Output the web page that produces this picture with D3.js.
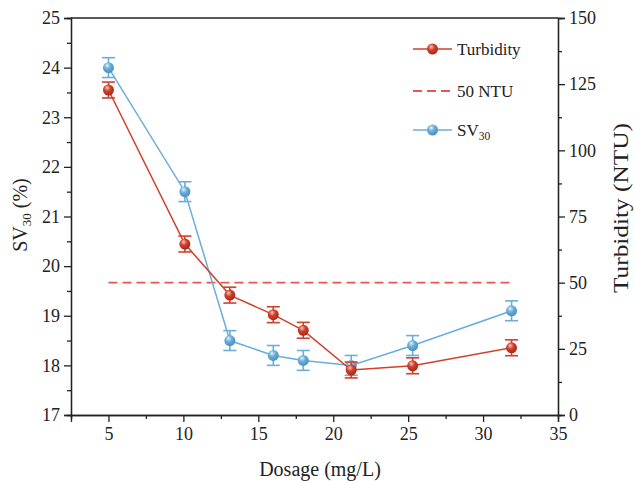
<!DOCTYPE html>
<html>
<head>
<meta charset="utf-8">
<script src="https://cdn.jsdelivr.net/npm/d3@7"></script>
<style>
  body { margin: 0; background: #fff; }
</style>
</head>
<body>
<svg id="chart"></svg>
<script>
// Data
const dosage = [5, 10.1, 13.1, 16, 18, 21.2, 25.3, 31.9];
const sv30 = [24.0, 21.5, 18.5, 18.2, 18.1, 18.0, 18.4, 19.1];
const sv30Err = [0.2, 0.2, 0.2, 0.2, 0.2, 0.2, 0.2, 0.2];
const turbidity = [122.8, 64.6, 45.3, 37.9, 32.0, 17.0, 18.6, 25.4];
const turbidityErr = [3, 3, 3, 3, 3, 3, 3, 3];
const limitNTU = 50;
const xTicks = [5, 10, 15, 20, 25, 30, 35];
const yLeftTicks = [17, 18, 19, 20, 21, 22, 23, 24, 25];
const yRightTicks = [0, 25, 50, 75, 100, 125, 150];

const width = 635, height = 481;
const margin = { top: 18, right: 77, bottom: 66, left: 71 };
const redC = '#d23f2b', blueC = '#6aaedb', dashC = '#ee5550', axisC = '#222';
const serif = '"Liberation Serif", "Times New Roman", serif';

const svg = d3.select('#chart').attr('width', width).attr('height', height)
  .style('font-family', serif);

const x = d3.scaleLinear().domain([2.5, 35]).range([margin.left, width - margin.right]);
const yL = d3.scaleLinear().domain([17, 25]).range([height - margin.bottom, margin.top]);
const yR = d3.scaleLinear().domain([0, 150]).range([height - margin.bottom, margin.top]);

// sphere-like marker gradients
const defs = svg.append('defs');
function sphere(id, light, base, dark) {
  const g = defs.append('radialGradient').attr('id', id)
    .attr('cx', '40%').attr('cy', '35%').attr('r', '65%').attr('fx', '38%').attr('fy', '30%');
  g.append('stop').attr('offset', '0%').attr('stop-color', light);
  g.append('stop').attr('offset', '45%').attr('stop-color', base);
  g.append('stop').attr('offset', '100%').attr('stop-color', dark);
}
sphere('gRed', '#f6c9bf', redC, '#a82a1a');
sphere('gBlue', '#e2f1fb', blueC, '#4a8fc0');

// axes
const font = '18px';
svg.append('g')
  .attr('transform', `translate(0,${height - margin.bottom})`)
  .call(d3.axisBottom(x).tickValues(xTicks).tickSize(7).tickPadding(5).tickFormat(d3.format('d')));
svg.append('g')
  .attr('transform', `translate(0,${height - margin.bottom})`)
  .call(d3.axisBottom(x).tickValues(d3.range(2.5, 35, 5)).tickSize(4).tickFormat(''));

svg.append('g')
  .attr('transform', `translate(${margin.left},0)`)
  .call(d3.axisLeft(yL).tickValues(yLeftTicks).tickSize(7).tickPadding(4).tickFormat(d3.format('d')));
svg.append('g')
  .attr('transform', `translate(${margin.left},0)`)
  .call(d3.axisLeft(yL).tickValues(d3.range(17.5, 25, 1)).tickSize(4).tickFormat(''));

svg.append('g')
  .attr('transform', `translate(${width - margin.right},0)`)
  .call(d3.axisRight(yR).tickValues(yRightTicks).tickSize(7).tickPadding(4).tickFormat(d3.format('d')));
svg.append('g')
  .attr('transform', `translate(${width - margin.right},0)`)
  .call(d3.axisRight(yR).tickValues(d3.range(12.5, 150, 25)).tickSize(4).tickFormat(''));

// top border
svg.append('line')
  .attr('x1', margin.left).attr('x2', width - margin.right)
  .attr('y1', margin.top).attr('y2', margin.top)
  .attr('stroke', axisC).attr('stroke-width', 1.3);

svg.selectAll('g').attr('font-family', serif);
svg.selectAll('.domain').attr('stroke', axisC).attr('stroke-width', 1.3);
svg.selectAll('.tick line').attr('stroke', axisC).attr('stroke-width', 1.3);
svg.selectAll('.tick text').style('font-size', font).style('font-family', serif).attr('fill', axisC);

// axis titles
svg.append('text')
  .attr('x', 320).attr('y', 476)
  .attr('text-anchor', 'middle').style('font-size', '20px').attr('fill', axisC)
  .text('Dosage (mg/L)');

const lt = svg.append('text')
  .attr('transform', 'translate(27,215) rotate(-90)')
  .attr('text-anchor', 'middle').style('font-size', '20px').attr('fill', axisC);
lt.append('tspan').text('SV');
lt.append('tspan').attr('dy', 4).style('font-size', '13px').text('30');
lt.append('tspan').attr('dy', -4).text(' (%)');

svg.append('text')
  .attr('transform', 'translate(628,208) rotate(-90)')
  .attr('text-anchor', 'middle').style('font-size', '22px').attr('fill', axisC)
  .attr('textLength', 170).attr('lengthAdjust', 'spacingAndGlyphs')
  .text('Turbidity (NTU)');

// 50 NTU reference line
svg.append('line')
  .attr('x1', x(dosage[0])).attr('x2', x(dosage[dosage.length - 1]))
  .attr('y1', yR(limitNTU)).attr('y2', yR(limitNTU))
  .attr('stroke', dashC).attr('stroke-width', 1.8).attr('stroke-dasharray', '9,5');

function series(vals, errs, y, color, grad) {
  const pts = dosage.map((d, i) => ({ x: d, y: vals[i], e: errs[i] }));
  const g = svg.append('g');
  g.append('path').datum(pts)
    .attr('fill', 'none').attr('stroke', color).attr('stroke-width', 1.5)
    .attr('d', d3.line().x(d => x(d.x)).y(d => y(d.y)));
  const eb = g.selectAll('.eb').data(pts).enter().append('g')
    .attr('stroke', color).attr('stroke-width', 1.6);
  eb.append('line').attr('x1', d => x(d.x)).attr('x2', d => x(d.x))
    .attr('y1', d => y(d.y - d.e)).attr('y2', d => y(d.y + d.e));
  [-1, 1].forEach(s => {
    eb.append('line').attr('x1', d => x(d.x) - 6.5).attr('x2', d => x(d.x) + 6.5)
      .attr('y1', d => y(d.y + s * d.e)).attr('y2', d => y(d.y + s * d.e));
  });
  g.selectAll('.pt').data(pts).enter().append('circle')
    .attr('cx', d => x(d.x)).attr('cy', d => y(d.y)).attr('r', 5.5)
    .attr('fill', `url(#${grad})`);
}

series(sv30, sv30Err, yL, blueC, 'gBlue');
series(turbidity, turbidityErr, yR, redC, 'gRed');

// legend
const legend = svg.append('g');
const items = [
  { label: 'Turbidity', y: 49, color: redC, grad: 'gRed', dash: false },
  { label: '50 NTU', y: 91, color: dashC, grad: null, dash: true },
  { label: 'SV', sub: '30', y: 130, color: blueC, grad: 'gBlue', dash: false }
];
items.forEach(it => {
  legend.append('line')
    .attr('x1', 413).attr('x2', 452).attr('y1', it.y).attr('y2', it.y)
    .attr('stroke', it.color).attr('stroke-width', it.dash ? 1.8 : 1.5)
    .attr('stroke-dasharray', it.dash ? '9,5' : null);
  if (it.grad) {
    legend.append('circle').attr('cx', 432.5).attr('cy', it.y).attr('r', 5.5)
      .attr('fill', `url(#${it.grad})`);
  }
  const t = legend.append('text').attr('x', 457).attr('y', it.y + 5.5)
    .style('font-size', '17px').attr('fill', axisC);
  t.append('tspan').text(it.label);
  if (it.sub) t.append('tspan').attr('dy', 4).style('font-size', '11.5px').text(it.sub);
});
</script>
</body>
</html>
